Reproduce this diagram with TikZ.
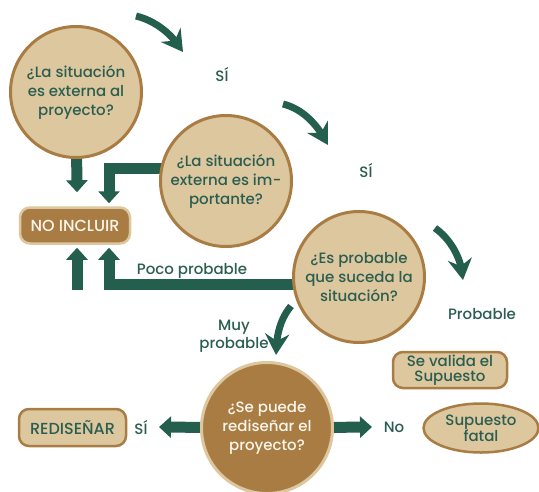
\documentclass[tikz,border=0pt]{standalone}
\usepackage{fontspec}
\setmainfont{Poppins Medium}
\usetikzlibrary{arrows.meta,bending,shapes.geometric}

\definecolor{leaf}{HTML}{245E4D}
\definecolor{sand}{HTML}{DDC79F}
\definecolor{bronze}{HTML}{A97C43}
\definecolor{ink}{HTML}{2B5E50}
\definecolor{cream}{HTML}{FBF6EC}

\pgfdeclarelayer{connectors}
\pgfsetlayers{connectors,main}

\begin{document}
\begin{tikzpicture}[x=1pt,y=-1pt,
  font=\fontsize{15}{19}\selectfont,
  question/.style={circle, draw=bronze, line width=3pt, fill=sand,
    minimum size=131pt, inner sep=0pt, align=center, text=ink},
  darkquestion/.style={question, draw=sand, fill=bronze, text=cream},
  lightbox/.style={rounded corners=10pt, draw=bronze, line width=2.5pt,
    fill=sand, text=ink, align=center, inner sep=0pt},
  darkbox/.style={lightbox, draw=sand, fill=bronze, text=cream},
  tag/.style={text=ink, align=center, inner sep=0pt},
  blockarrow/.style={draw=leaf, line width=11pt, line join=miter,
    -{Triangle[length=12pt,width=21pt]}},
  swoosh/.style={draw=leaf, line width=7pt,
    -{Stealth[length=21pt,width=24pt,inset=7pt]}},
]
\useasboundingbox (0,0) rectangle (539,491);

% decision circles
\node[question] (c1) at (76,92) {¿La situación\\es externa al\\proyecto?};
\node[question] (c2) at (226,181) {¿La situación\\externa es im-\\portante?};
\node[question] (c3) at (359,277) {¿Es probable\\que suceda la\\situación?};
\node[darkquestion] (c4) at (267,428) {¿Se puede\\rediseñar el\\proyecto?};

% outcome boxes
\node[darkbox, minimum width=110pt, minimum height=36pt,
      font=\fontsize{16}{19}\selectfont] (noinc) at (75,225.5) {NO INCLUIR};
\node[lightbox, minimum width=107pt, minimum height=37pt,
      font=\fontsize{16}{19}\selectfont] (redis) at (72.5,427.5) {REDISEÑAR};
\node[lightbox, minimum width=114pt, minimum height=36pt,
      font=\fontsize{15}{15}\selectfont] (valida) at (450,370) {Se valida el\\Supuesto};
\node[ellipse, draw=bronze, line width=2.5pt, fill=sand, text=ink, align=center,
      inner sep=0pt, minimum width=115pt, minimum height=49pt,
      font=\fontsize{15}{16}\selectfont] (fatal) at (481,428) {Supuesto\\fatal};

% branch labels
\node[tag] (si1) at (222,74) {SÍ};
\node[tag] (si2) at (366,170) {SÍ};
\node[tag] (poco) at (192,271) {Poco probable};
\node[tag, font=\fontsize{15}{18}\selectfont] (muy) at (234,336) {Muy\\probable};
\node[tag] (prob) at (482,314) {Probable};
\node[tag] (siR) at (141,427) {SÍ};
\node[tag] (noR) at (394,427) {No};

% end points of the curved arrows and of the open shaft
\coordinate (s1a) at (136,16);  \coordinate (s1b) at (183,52);
\coordinate (s2a) at (283,104); \coordinate (s2b) at (328,145);
\coordinate (s3a) at (435,228); \coordinate (s3b) at (463,280);
\coordinate (s4a) at (291,306); \coordinate (s4b) at (276,355);
\coordinate (upfoot) at (77,290);

% block connectors, kept beneath the circles
\begin{pgfonlayer}{connectors}
\draw[blockarrow] (c1.center) -- ([xshift=2pt,yshift=14pt]noinc.north);
\draw[blockarrow] ([yshift=13pt]c2.center) -| ([xshift=34pt,yshift=3pt]noinc.north);
\draw[blockarrow] ([yshift=-7.5pt]c3.center) -| ([xshift=34pt,yshift=-3pt]noinc.south);
\draw[blockarrow] (upfoot) -- ([xshift=2pt,yshift=-3pt]noinc.south);
\draw[blockarrow] (c4.center) -- ([xshift=18pt]siR.center);
\draw[blockarrow] (c4.center) -- ([xshift=-22pt]noR.center);
\end{pgfonlayer}

% curved arrows
\draw[swoosh] (s1a) .. controls (156,21) and (172,34) .. (s1b);
\draw[swoosh] (s2a) .. controls (303,109) and (318,125) .. (s2b);
\draw[swoosh] (s3a) .. controls (449,238) and (462,257) .. (s3b);
\draw[swoosh] (s4a) .. controls (281,318) and (276,334) .. (s4b);
\end{tikzpicture}
\end{document}
